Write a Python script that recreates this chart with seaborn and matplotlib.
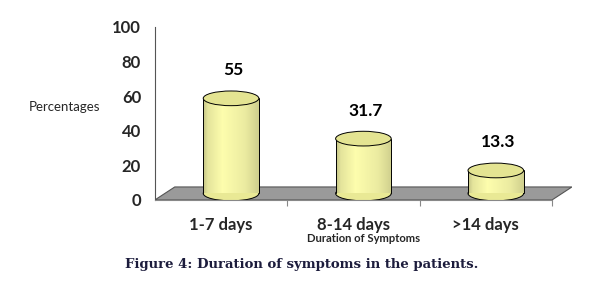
import seaborn as sns
import matplotlib.pyplot as plt
import matplotlib.patches as mpatches
import numpy as np
import pandas as pd

# data
categories = ['1-7 days', '8-14 days', '>14 days']
percentages = [55, 31.7, 13.3]
value_labels = ['55', '31.7', '13.3']
y_ticks = [0, 20, 40, 60, 80, 100]

df = pd.DataFrame({'duration': categories, 'pct': percentages})

sns.set_theme(style='white')
plt.rcParams['font.family'] = ['Lato', 'DejaVu Sans']

fig = plt.figure(figsize=(5.89, 2.84), dpi=100)
ax = fig.add_axes([0.263, 0.296, 0.708, 0.609])

sns.barplot(data=df, x='duration', y='pct', color='#f2f2a2', width=0.42,
            edgecolor='none', ax=ax, zorder=3)

# 3D look: floor depth, bar offset into the floor
depth = 7.5
skew = 0.15
shift = skew / 2

floor = mpatches.Polygon([(-0.5, 0), (2.5, 0), (2.5 + skew, depth), (-0.5 + skew, depth)],
                         closed=True, facecolor='#9a9a9a', edgecolor='#555555',
                         linewidth=0.8, zorder=1)
ax.add_patch(floor)

# gradient for the cylinder body
grad = np.linspace(0, 1, 64)
shade = np.interp(grad, [0, 0.08, 0.35, 0.75, 1.0], [0.78, 0.9, 1.0, 0.93, 0.82])
base = np.array([0xf6, 0xf6, 0xa8]) / 255
img = np.clip(shade[None, :, None] * base[None, None, :] * 1.03, 0, 1)

ell_h = 8.5
for bar, lab in zip(ax.patches[:len(percentages)], value_labels):
    x0 = bar.get_x() + shift
    w = bar.get_width()
    h = bar.get_height()
    y0 = depth / 2
    bar.set_x(x0)
    bar.set_y(y0)
    bar.set_facecolor('none')
    bottom = mpatches.Ellipse((x0 + w / 2, y0), w, ell_h, facecolor='#e9e995',
                              edgecolor='black', linewidth=0.7, zorder=2)
    ax.add_patch(bottom)
    im = ax.imshow(img, extent=(x0, x0 + w, y0, y0 + h), aspect='auto', zorder=3)
    im.set_clip_path(bar)
    ax.plot([x0, x0], [y0, y0 + h], color='black', lw=0.7, zorder=4)
    ax.plot([x0 + w, x0 + w], [y0, y0 + h], color='black', lw=0.7, zorder=4)
    top = mpatches.Ellipse((x0 + w / 2, y0 + h), w, ell_h, facecolor='#e4e492',
                           edgecolor='black', linewidth=0.7, zorder=5)
    ax.add_patch(top)
    ax.text(x0 + w / 2 + 0.015, h + 20, lab, ha='center', va='center',
            fontsize=12.5, fontweight='bold', color='black')

ax.set_xlim(-0.5, 2.65)
ax.set_ylim(0, 100)

for s in ['top', 'right']:
    ax.spines[s].set_visible(False)
ax.spines['left'].set_color('#555555')
ax.spines['left'].set_linewidth(0.8)
ax.spines['bottom'].set_color('#888888')
ax.spines['bottom'].set_linewidth(0.8)
ax.spines['bottom'].set_bounds(-0.5, 2.5)

ax.set_yticks(y_ticks)
ax.set_yticklabels([str(t) for t in y_ticks], fontsize=12, fontweight='bold')
ax.tick_params(axis='y', length=0, pad=10)
ax.set_xticks(range(len(categories)))
ax.set_xticklabels(categories, fontsize=12, fontweight='bold')
ax.tick_params(axis='x', length=0, pad=12)
ax.set_xticks([0.5, 1.5, 2.5], minor=True)
ax.tick_params(axis='x', which='minor', length=4, color='#888888', width=0.8,
               direction='out', bottom=True)

ax.set_xlabel('Duration of Symptoms', fontsize=8.1, fontweight='bold', labelpad=0)
ax.set_ylabel('Percentages', fontsize=9.5, rotation=0, ha='center', va='center')
ax.yaxis.set_label_coords(-0.216, 0.54)
ax.grid(False)

fig.text(0.513, 0.067, 'Figure 4: Duration of symptoms in the patients.',
         ha='center', va='center', fontsize=9.5, fontweight='bold',
         family='DejaVu Serif', color='#1c1c3c')

fig.savefig('out.png', dpi=100, facecolor='white')
